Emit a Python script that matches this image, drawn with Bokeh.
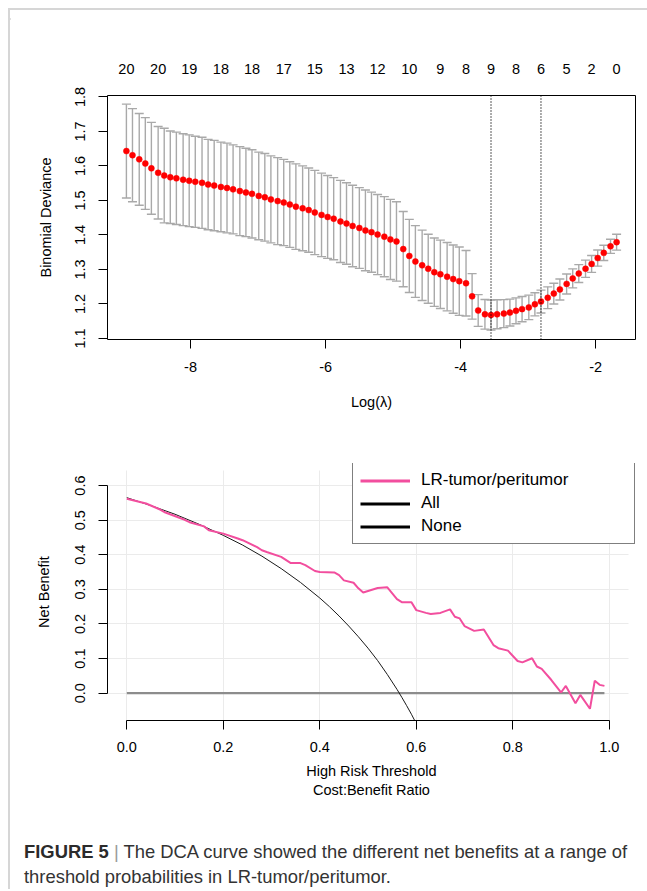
import numpy as np
from bokeh.plotting import figure
from bokeh.models import (ColumnDataSource, Whisker, TeeHead, Span, LinearAxis, FixedTicker,
                          Range1d, PrintfTickFormatter, Legend, LegendItem, Div, Grid)
from bokeh.layouts import column, row
from bokeh.embed import file_html
from bokeh.resources import INLINE

# ---------------- data: cross-validation (top panel) ----------------
log_lambda = [-8.95, -8.86, -8.76, -8.67, -8.58, -8.48, -8.39, -8.30, -8.21, -8.11,
              -8.02, -7.93, -7.83, -7.74, -7.65, -7.55, -7.46, -7.37, -7.27, -7.18,
              -7.09, -6.99, -6.90, -6.81, -6.71, -6.62, -6.53, -6.44, -6.34, -6.25,
              -6.16, -6.06, -5.97, -5.88, -5.78, -5.69, -5.60, -5.50, -5.41, -5.32,
              -5.23, -5.13, -5.04, -4.95, -4.85, -4.76, -4.67, -4.57, -4.48, -4.39,
              -4.30, -4.20, -4.11, -4.02, -3.92, -3.83, -3.74, -3.64, -3.55, -3.46,
              -3.36, -3.27, -3.18, -3.09, -2.99, -2.90, -2.81, -2.71, -2.62, -2.53,
              -2.43, -2.34, -2.25, -2.15, -2.06, -1.97, -1.88, -1.78, -1.69]
cv_mean = [1.643, 1.631, 1.619, 1.607, 1.593, 1.580, 1.572, 1.567, 1.564, 1.560,
           1.557, 1.554, 1.551, 1.546, 1.543, 1.539, 1.536, 1.532, 1.527, 1.523,
           1.519, 1.513, 1.509, 1.503, 1.498, 1.494, 1.488, 1.482, 1.477, 1.472,
           1.465, 1.458, 1.452, 1.447, 1.439, 1.433, 1.426, 1.420, 1.413, 1.408,
           1.401, 1.395, 1.387, 1.381, 1.359, 1.339, 1.323, 1.312, 1.302, 1.292,
           1.286, 1.279, 1.272, 1.266, 1.260, 1.222, 1.181, 1.170, 1.168, 1.170,
           1.172, 1.175, 1.180, 1.185, 1.190, 1.199, 1.207, 1.218, 1.230, 1.242,
           1.258, 1.274, 1.288, 1.302, 1.316, 1.333, 1.348, 1.367, 1.379]
cv_sd = [0.136, 0.135, 0.133, 0.133, 0.133, 0.134, 0.137, 0.134, 0.134, 0.133,
         0.133, 0.132, 0.132, 0.131, 0.131, 0.130, 0.130, 0.129, 0.129, 0.128,
         0.128, 0.127, 0.127, 0.126, 0.126, 0.125, 0.124, 0.124, 0.123, 0.122,
         0.122, 0.121, 0.120, 0.119, 0.119, 0.118, 0.118, 0.117, 0.117, 0.116,
         0.116, 0.116, 0.116, 0.115, 0.109, 0.106, 0.104, 0.102, 0.100, 0.099,
         0.099, 0.099, 0.099, 0.099, 0.095, 0.066, 0.046, 0.043, 0.0435, 0.042,
         0.0405, 0.039, 0.0375, 0.0365, 0.0355, 0.0335, 0.033, 0.0315, 0.030, 0.0305,
         0.029, 0.0275, 0.026, 0.025, 0.0245, 0.0235, 0.022, 0.0205, 0.023]
nzero_idx = [0, 5, 10, 15, 20, 25, 30, 35, 40, 45, 50, 54, 58, 62, 66, 70, 74, 78]
nzero_labels = ["20", "20", "19", "18", "18", "17", "15", "13", "12", "10",
                "9", "8", "9", "8", "6", "5", "2", "0"]
log_lambda_min = -3.55
log_lambda_1se = -2.81
x_ticks_top = [-8, -6, -4, -2]
y_ticks_top = [1.1, 1.2, 1.3, 1.4, 1.5, 1.6, 1.7, 1.8]

# ---------------- data: decision curve (bottom panel) ----------------
dca_pt = [0.00, 0.04, 0.07, 0.08, 0.12, 0.13, 0.16, 0.17, 0.20, 0.23,
          0.24, 0.27, 0.28, 0.29, 0.32, 0.34, 0.36, 0.37, 0.39, 0.40,
          0.43, 0.44, 0.45, 0.47, 0.48, 0.49, 0.52, 0.54, 0.56, 0.57,
          0.59, 0.60, 0.62, 0.63, 0.65, 0.67, 0.68, 0.69, 0.70, 0.72,
          0.74, 0.76, 0.77, 0.79, 0.81, 0.82, 0.84, 0.85, 0.86, 0.88,
          0.90, 0.91, 0.93, 0.94, 0.96, 0.97, 0.98, 0.99]
dca_model = [0.562, 0.548, 0.530, 0.522, 0.501, 0.494, 0.482, 0.471, 0.461, 0.447,
             0.442, 0.422, 0.413, 0.408, 0.394, 0.376, 0.376, 0.370, 0.353, 0.350,
             0.349, 0.341, 0.326, 0.319, 0.303, 0.291, 0.304, 0.306, 0.272, 0.263,
             0.263, 0.240, 0.232, 0.229, 0.232, 0.242, 0.221, 0.216, 0.194, 0.180,
             0.184, 0.139, 0.130, 0.123, 0.093, 0.089, 0.101, 0.077, 0.070, 0.038,
             0.002, 0.021, -0.029, -0.005, -0.045, 0.036, 0.024, 0.021]
all_pt = [0.00, 0.05, 0.10, 0.15, 0.20, 0.24, 0.28, 0.32, 0.36, 0.40, 0.42,
          0.44, 0.46, 0.48, 0.50, 0.52, 0.54, 0.56, 0.57, 0.58, 0.59, 0.60]
all_nb = [0.565, 0.542, 0.517, 0.488, 0.456, 0.428, 0.396, 0.360, 0.320, 0.275, 0.250,
          0.223, 0.194, 0.163, 0.130, 0.094, 0.054, 0.011, -0.012, -0.036, -0.061, -0.088]
none_pt = [0.0, 0.99]
none_nb = [0.0, 0.0]
x_ticks_dca = [0.0, 0.2, 0.4, 0.6, 0.8, 1.0]
y_ticks_dca = [0.0, 0.1, 0.2, 0.3, 0.4, 0.5, 0.6]

FONT = "Liberation Sans"
TICK_FS = "14.5px"
LAB_FS = "14.5px"
BORDER = "#d6d6d6"


def style_axis(ax):
    ax.axis_line_color = "black"
    ax.axis_line_width = 1
    ax.major_tick_line_color = "black"
    ax.major_tick_in = 0
    ax.major_tick_out = 9
    ax.minor_tick_line_color = None
    ax.major_label_text_font = FONT
    ax.major_label_text_font_size = TICK_FS
    ax.major_label_text_color = "black"
    ax.axis_label_text_font = FONT
    ax.axis_label_text_font_size = LAB_FS
    ax.axis_label_text_font_style = "normal"
    ax.axis_label_text_color = "black"


# ---------------- top panel ----------------
p1 = figure(width=637, height=420, output_backend="svg", toolbar_location=None,
            x_range=Range1d(-9.23, -1.41), y_range=Range1d(1.097, 1.804),
            min_border_left=97, min_border_right=12, min_border_top=85, min_border_bottom=91)
p1.outline_line_color = "black"
p1.outline_line_width = 1
p1.outline_line_alpha = 1
p1.grid.visible = False
p1.background_fill_color = "white"
p1.border_fill_color = "white"

mean_arr = np.array(cv_mean)
sd_arr = np.array(cv_sd)
cv_src = ColumnDataSource(dict(x=log_lambda, y=cv_mean,
                               upper=(mean_arr + sd_arr).tolist(),
                               lower=(mean_arr - sd_arr).tolist()))
bar_col = "#A9A9A9"
whisk = Whisker(base="x", upper="upper", lower="lower", source=cv_src,
                line_color=bar_col, line_width=1.4,
                upper_head=TeeHead(size=9, line_color=bar_col, line_width=1.4),
                lower_head=TeeHead(size=9, line_color=bar_col, line_width=1.4))
p1.add_layout(whisk)
p1.scatter("x", "y", source=cv_src, size=6, fill_color="#FF0000", line_color="#FF0000", line_width=0.5)

for loc in (log_lambda_min, log_lambda_1se):
    p1.add_layout(Span(location=loc, dimension="height", line_color="black",
                       line_dash="1 2", line_width=1.3))

xa = p1.xaxis[0]
style_axis(xa)
xa.ticker = FixedTicker(ticks=x_ticks_top)
xa.major_label_overrides = {t: str(t) for t in x_ticks_top}
xa.bounds = (-8, -2)
xa.major_label_standoff = 13
xa.axis_label = "Log(λ)"
xa.axis_label_standoff = 19

ya = p1.yaxis[0]
style_axis(ya)
ya.ticker = FixedTicker(ticks=y_ticks_top)
ya.formatter = PrintfTickFormatter(format="%.1f")
ya.major_label_orientation = "vertical"
ya.bounds = (1.1, 1.8)
ya.major_label_standoff = 13
ya.axis_label = "Binomial Deviance"
ya.axis_label_standoff = 19

top_ticks = [log_lambda[i] for i in nzero_idx]
ax_top = LinearAxis(ticker=FixedTicker(ticks=top_ticks),
                    major_label_overrides={t: lab for t, lab in zip(top_ticks, nzero_labels)})
style_axis(ax_top)
ax_top.axis_line_color = None
ax_top.major_tick_line_color = None
ax_top.major_tick_out = 0
ax_top.major_label_standoff = 22
p1.add_layout(ax_top, "above")

# ---------------- bottom panel ----------------
x_lo, x_hi = -0.04, 1.04
y_lo, y_hi = -0.079, 0.6435
p2 = figure(width=637, height=370, output_backend="svg", toolbar_location=None,
            x_range=Range1d(x_lo, 1.0544), y_range=Range1d(y_lo, 0.6637),
            min_border_left=97, min_border_right=8, min_border_top=33, min_border_bottom=79)
p2.outline_line_color = None
p2.background_fill_color = "white"
p2.border_fill_color = "white"

xb = p2.xaxis[0]
style_axis(xb)
xb.ticker = FixedTicker(ticks=x_ticks_dca)
xb.formatter = PrintfTickFormatter(format="%.1f")
xb.bounds = (0, 1)
xb.major_label_standoff = 12
xb.axis_label = "High Risk Threshold"
xb.axis_label_standoff = 8

yb = p2.yaxis[0]
style_axis(yb)
yb.ticker = FixedTicker(ticks=y_ticks_dca)
yb.formatter = PrintfTickFormatter(format="%.1f")
yb.major_label_orientation = "vertical"
yb.bounds = (0, 0.6)
yb.major_label_standoff = 13
yb.axis_label = "Net Benefit"
yb.axis_label_standoff = 21

ax_cb = LinearAxis(ticker=FixedTicker(ticks=[]), axis_label="Cost:Benefit Ratio")
style_axis(ax_cb)
ax_cb.axis_line_color = None
ax_cb.major_tick_line_color = None
ax_cb.major_tick_out = 0
ax_cb.major_label_standoff = 0
ax_cb.axis_label_standoff = 0
p2.add_layout(ax_cb, "below")

p2.xgrid.grid_line_color = "#EBEBEB"
p2.ygrid.grid_line_color = "#EBEBEB"
p2.xgrid.grid_line_width = 1
p2.ygrid.grid_line_width = 1
if "cross_bounds" in Grid.properties():
    p2.xgrid.cross_bounds = (y_lo, y_hi)
    p2.ygrid.cross_bounds = (x_lo, x_hi)

PINK = "#F24E9E"
p2.line(none_pt, none_nb, line_color="#8C8C8C", line_width=2.2)
p2.line(all_pt, all_nb, line_color="#1A1A1A", line_width=1)
p2.line(dca_pt, dca_model, line_color=PINK, line_width=2)

# legend samples (hidden renderers carrying the legend styling)
lg_model = p2.line(dca_pt, dca_model, line_color=PINK, line_width=3, visible=False)
lg_all = p2.line(all_pt, all_nb, line_color="black", line_width=3, visible=False)
lg_none = p2.line(none_pt, none_nb, line_color="black", line_width=3, visible=False)
legend = Legend(items=[LegendItem(label="LR-tumor/peritumor", renderers=[lg_model]),
                       LegendItem(label="All", renderers=[lg_all]),
                       LegendItem(label="None", renderers=[lg_none])],
                location=(245, 176), orientation="vertical",
                label_text_font=FONT, label_text_font_size="17px", label_text_color="black",
                glyph_width=50, glyph_height=19, label_height=19, label_width=206,
                label_standoff=11, spacing=3, padding=7, margin=0,
                border_line_color="black", border_line_width=1.5,
                background_fill_color="white", background_fill_alpha=1)
p2.add_layout(legend, "center")

caption = Div(
    text=('<div style="font-family:\'Liberation Sans\',Arial,sans-serif;font-size:18.4px;'
          'line-height:25px;color:#333333;white-space:nowrap;padding-left:14px;padding-top:39px;">'
          '<b style="color:#2b2b2b">FIGURE 5</b> <span style="color:#9a9a9a">|</span> '
          'The DCA curve showed the different net benefits at a range of<br>'
          'threshold probabilities in LR-tumor/peritumor.</div>'),
    width=637, height=89, margin=0)

top_line = Div(text=f'<div style="width:639px;height:2px;background:{BORDER}"></div>',
               width=639, height=2, margin=0,
               styles={"background-color": BORDER})
left_line = Div(text=f'<div style="width:2px;height:879px;background:{BORDER}"></div>',
                width=2, height=879, margin=0,
                styles={"background-color": BORDER})

layout = column(top_line, row(left_line, column(p1, p2, caption)), margin=(8, 0, 0, 8))

open("out.html", "w").write(file_html(layout, INLINE))
